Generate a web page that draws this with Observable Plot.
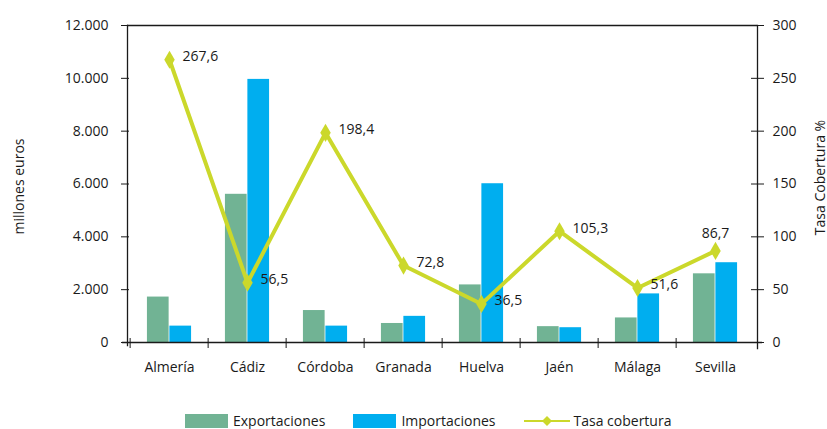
<!DOCTYPE html>
<html>
<head>
<meta charset="utf-8">
<script src="https://cdn.jsdelivr.net/npm/d3@7"></script>
<script src="https://cdn.jsdelivr.net/npm/@observablehq/plot@0.6"></script>
<style>
  html, body { margin: 0; padding: 0; background: #fff; }
  body { width: 827px; height: 429px; position: relative; overflow: hidden; font-family: "Open Sans", sans-serif; color: #1a1a1a; }
  #chart svg { display: block; }
  .ylab { position: absolute; font-size: 14px; white-space: nowrap; transform-origin: center; }
  #legend { position: absolute; left: 185px; top: 413px; display: flex; align-items: center; font-size: 14px; line-height: 16px; }
  .item { display: flex; align-items: center; margin-right: 28px; }
  .sw { width: 43px; height: 14px; margin-right: 5px; }
</style>
</head>
<body>
<div id="chart"></div>
<div class="ylab" id="ylabL">millones euros</div>
<div class="ylab" id="ylabR">Tasa Cobertura %</div>
<div id="legend"></div>
<script>
const provincias = ["Almería", "Cádiz", "Córdoba", "Granada", "Huelva", "Jaén", "Málaga", "Sevilla"];
const exportaciones = [1720, 5610, 1210, 720, 2180, 600, 930, 2600];
const importaciones = [620, 9960, 620, 990, 6010, 560, 1840, 3020];
const tasaCobertura = [267.6, 56.5, 198.4, 72.8, 36.5, 105.3, 51.6, 86.7];
const leftTicks = [0, 2000, 4000, 6000, 8000, 10000, 12000];
const rightTicks = [0, 50, 100, 150, 200, 250, 300];
const seriesNames = ["Exportaciones", "Importaciones", "Tasa cobertura"];

const GREEN = "#71b394", BLUE = "#00aeef", LIME = "#cbd82b";
const K = 12000 / 300; // right-axis factor
const locale = d3.formatLocale({decimal: ",", thousands: ".", grouping: [3]});
const fmtThousands = locale.format(",");
const fmtDec = locale.format(",.1f");

const rows = provincias.map((p, i) => ({p, exp: exportaciones[i], imp: importaciones[i], tasa: tasaCobertura[i]}));
const last = rows.length - 1;

const bw = (827 - 127 - 70) / provincias.length;
const outer = bw * 0.215;

const chart = Plot.plot({
  width: 827,
  height: 405,
  marginLeft: 127,
  marginRight: 70,
  marginTop: 25,
  marginBottom: 63,
  style: {fontFamily: "'Open Sans', sans-serif", fontSize: "14px", color: "#1a1a1a", background: "#fff"},
  x: {type: "band", domain: provincias, padding: 0, axis: null},
  y: {domain: [0, 12000], axis: null},
  marks: [
    Plot.barY(rows, {x: "p", y: "exp", fill: GREEN, insetLeft: outer, insetRight: bw / 2}),
    Plot.barY(rows, {x: "p", y: "imp", fill: BLUE, insetLeft: bw / 2, insetRight: outer}),
    Plot.ruleY([12000], {stroke: "#1a1a1a", strokeWidth: 1.3}),
    Plot.ruleY([0], {stroke: "#1a1a1a", strokeWidth: 1.3, insetLeft: -5, insetRight: -5}),
    Plot.frame({anchor: "left", stroke: "#1a1a1a", strokeWidth: 1.3, insetBottom: -3}),
    Plot.frame({anchor: "right", stroke: "#1a1a1a", strokeWidth: 1.3, insetBottom: -6}),
    Plot.axisY(leftTicks, {anchor: "left", tickSize: 8, tickPadding: 13, dx: 2, tickFormat: fmtThousands, label: null, stroke: "#1a1a1a"}),
    Plot.axisY(rightTicks.map(d => d * K), {anchor: "right", tickSize: 13, tickPadding: 9, dx: -7, tickFormat: d => String(d / K), label: null, stroke: "#1a1a1a"}),
    Plot.axisX({anchor: "bottom", tickSize: 10, dy: -4, dx: -bw / 2, tickFormat: null, label: null, stroke: "#1a1a1a"}),
    Plot.axisX({anchor: "bottom", tickSize: 0, tickPadding: 20, label: null}),
    Plot.line(rows, {x: "p", y: d => d.tasa * K, stroke: LIME, strokeWidth: 4}),
    Plot.dot(rows, {x: "p", y: d => d.tasa * K, symbol: "diamond", r: 5.5, fill: LIME}),
    Plot.text(rows.slice(0, last), {x: "p", y: d => d.tasa * K, text: d => fmtDec(d.tasa), textAnchor: "start", dx: 13, dy: -3, fill: "#1a1a1a"}),
    Plot.text(rows.slice(last), {x: "p", y: d => d.tasa * K, text: d => fmtDec(d.tasa), textAnchor: "middle", dy: -17, fill: "#1a1a1a"})
  ]
});
document.getElementById("chart").append(chart);

// rotated axis titles
function place(id, cx, cy) {
  const el = document.getElementById(id);
  const w = el.offsetWidth, h = el.offsetHeight;
  el.style.left = (cx - w / 2) + "px";
  el.style.top = (cy - h / 2) + "px";
  el.style.transform = "rotate(-90deg)";
}
place("ylabL", 18, 186);
place("ylabR", 819, 177);

// legend
const legend = document.getElementById("legend");
const colors = [GREEN, BLUE];
seriesNames.forEach((name, i) => {
  const item = document.createElement("div");
  item.className = "item";
  if (i < 2) {
    const sw = document.createElement("div");
    sw.className = "sw";
    sw.style.background = colors[i];
    item.append(sw);
  } else {
    const ns = "http://www.w3.org/2000/svg";
    const s = document.createElementNS(ns, "svg");
    s.setAttribute("width", 46); s.setAttribute("height", 14);
    s.style.marginRight = "4px";
    const l = document.createElementNS(ns, "line");
    l.setAttribute("x1", 0); l.setAttribute("x2", 46); l.setAttribute("y1", 7); l.setAttribute("y2", 7);
    l.setAttribute("stroke", LIME); l.setAttribute("stroke-width", 2);
    const p = document.createElementNS(ns, "path");
    p.setAttribute("d", "M23,2 L28,7 L23,12 L18,7 Z");
    p.setAttribute("fill", LIME);
    s.append(l, p);
    item.append(s);
  }
  const t = document.createElement("span");
  t.textContent = name;
  item.append(t);
  legend.append(item);
});
</script>
</body>
</html>
